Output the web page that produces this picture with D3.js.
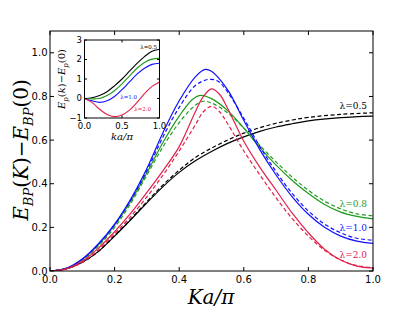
<!DOCTYPE html>
<html>
<head>
<meta charset="utf-8">
<script src="https://cdn.jsdelivr.net/npm/d3@7"></script>
<style>
  body { margin: 0; background: #fff; }
  svg text { font-family: "DejaVu Sans", sans-serif; }
  .serif { font-family: "DejaVu Serif", "Liberation Serif", serif; }
</style>
</head>
<body>
<div id="chart"></div>
<script>
// main panel: E_BP(K) - E_BP(0), solid and dashed for each lambda
const black05 = [[0,0],[0.05,0.01],[0.1,0.04],[0.15,0.09],[0.2,0.16],[0.25,0.235],[0.3,0.312],[0.35,0.387],[0.4,0.452],[0.45,0.505],[0.5,0.548],[0.55,0.585],[0.6,0.615],[0.65,0.64],[0.7,0.66],[0.75,0.675],[0.8,0.688],[0.9,0.703],[1.0,0.71]];
const black05d = [[0,0],[0.05,0.01],[0.1,0.04],[0.15,0.09],[0.2,0.162],[0.25,0.238],[0.3,0.318],[0.35,0.395],[0.4,0.462],[0.45,0.52],[0.5,0.563],[0.55,0.6],[0.6,0.632],[0.65,0.657],[0.7,0.677],[0.75,0.692],[0.8,0.704],[0.9,0.718],[1.0,0.725]];
const green08 = [[0,0],[0.05,0.012],[0.1,0.053],[0.15,0.12],[0.2,0.21],[0.25,0.32],[0.3,0.45],[0.35,0.59],[0.4,0.71],[0.44,0.785],[0.465,0.805],[0.5,0.79],[0.55,0.735],[0.6,0.655],[0.65,0.565],[0.7,0.485],[0.75,0.415],[0.8,0.355],[0.85,0.305],[0.9,0.27],[0.95,0.25],[1.0,0.239]];
const green08d = [[0,0],[0.05,0.011],[0.1,0.05],[0.15,0.115],[0.2,0.2],[0.25,0.31],[0.3,0.44],[0.35,0.57],[0.4,0.68],[0.45,0.76],[0.475,0.778],[0.5,0.77],[0.55,0.725],[0.6,0.655],[0.65,0.575],[0.7,0.5],[0.75,0.43],[0.8,0.37],[0.85,0.32],[0.9,0.285],[0.95,0.262],[1.0,0.253]];
const blue10 = [[0,0],[0.05,0.012],[0.1,0.055],[0.15,0.125],[0.2,0.215],[0.25,0.33],[0.3,0.47],[0.35,0.635],[0.4,0.78],[0.45,0.89],[0.48,0.924],[0.5,0.915],[0.55,0.83],[0.6,0.69],[0.65,0.555],[0.7,0.44],[0.75,0.34],[0.8,0.26],[0.85,0.2],[0.9,0.16],[0.95,0.137],[1.0,0.127]];
const blue10d = [[0,0],[0.05,0.012],[0.1,0.054],[0.15,0.123],[0.2,0.212],[0.25,0.325],[0.3,0.46],[0.35,0.615],[0.4,0.75],[0.45,0.85],[0.49,0.878],[0.52,0.87],[0.55,0.82],[0.6,0.7],[0.65,0.57],[0.7,0.455],[0.75,0.355],[0.8,0.275],[0.85,0.215],[0.9,0.175],[0.95,0.15],[1.0,0.141]];
const red20 = [[0,0],[0.05,0.01],[0.1,0.045],[0.15,0.105],[0.2,0.18],[0.25,0.265],[0.3,0.36],[0.35,0.46],[0.4,0.57],[0.45,0.73],[0.475,0.8],[0.5,0.835],[0.525,0.81],[0.55,0.745],[0.6,0.595],[0.65,0.475],[0.7,0.37],[0.75,0.265],[0.8,0.175],[0.85,0.1],[0.9,0.05],[0.95,0.022],[1.0,0.013]];
const red20d = [[0,0],[0.05,0.009],[0.1,0.04],[0.15,0.097],[0.2,0.17],[0.25,0.25],[0.3,0.34],[0.35,0.44],[0.4,0.55],[0.45,0.67],[0.475,0.73],[0.5,0.755],[0.525,0.73],[0.55,0.675],[0.6,0.55],[0.65,0.44],[0.7,0.335],[0.75,0.24],[0.8,0.16],[0.85,0.095],[0.9,0.05],[0.95,0.025],[1.0,0.015]];

// inset: E_p(k) - E_p(0)
const insetBlack = [[0,0],[0.1,0.04],[0.2,0.15],[0.3,0.35],[0.4,0.65],[0.5,1.0],[0.6,1.4],[0.7,1.8],[0.8,2.15],[0.9,2.42],[1.0,2.53]];
const insetGreen = [[0,0],[0.1,-0.02],[0.2,0.0],[0.3,0.15],[0.4,0.4],[0.5,0.75],[0.6,1.15],[0.7,1.55],[0.8,1.85],[0.9,2.02],[1.0,2.07]];
const insetBlue = [[0,0],[0.1,-0.12],[0.2,-0.2],[0.3,-0.12],[0.4,0.1],[0.5,0.45],[0.6,0.85],[0.7,1.25],[0.8,1.55],[0.9,1.75],[1.0,1.81]];
const insetRed = [[0,0],[0.1,-0.2],[0.2,-0.55],[0.3,-0.82],[0.4,-0.93],[0.5,-0.85],[0.6,-0.6],[0.7,-0.2],[0.8,0.25],[0.9,0.62],[1.0,0.85]];

const mainTicksX = [0, 0.2, 0.4, 0.6, 0.8, 1.0];
const mainTicksY = [0, 0.2, 0.4, 0.6, 0.8, 1.0];
const insetTicksX = [0, 0.5, 1.0];
const insetTicksY = [-1, 0, 1, 2, 3];

const BLACK = "#000", GREEN = "#1f9a1f", BLUE = "#1010ff", RED = "#e0204a";

const W = 415, H = 312;
const svg = d3.select("#chart").append("svg")
    .attr("width", W).attr("height", H);

// main axes
const x = d3.scaleLinear().domain([0, 1]).range([50, 373]);
const y = d3.scaleLinear().domain([0, 1.1]).range([271, 31]);

function drawFrame(g, xs, ys, tx, ty, fmtX, fmtY, fs, tickLen, gap) {
    const [x0, x1] = xs.range(), [y0, y1] = ys.range();
    // ticks pointing inwards on all four sides
    tx.forEach(v => {
        g.append("line").attr("x1", xs(v)).attr("x2", xs(v)).attr("y1", y0).attr("y2", y0 - tickLen).attr("stroke", "#000");
        g.append("line").attr("x1", xs(v)).attr("x2", xs(v)).attr("y1", y1).attr("y2", y1 + tickLen).attr("stroke", "#000");
        g.append("text").attr("x", xs(v)).attr("y", y0 + fs + gap)
            .attr("text-anchor", "middle").attr("font-size", fs).text(fmtX(v));
    });
    ty.forEach(v => {
        g.append("line").attr("x1", x0).attr("x2", x0 + tickLen).attr("y1", ys(v)).attr("y2", ys(v)).attr("stroke", "#000");
        g.append("line").attr("x1", x1).attr("x2", x1 - tickLen).attr("y1", ys(v)).attr("y2", ys(v)).attr("stroke", "#000");
        g.append("text").attr("x", x0 - 2.5).attr("y", ys(v)).attr("dy", "0.35em")
            .attr("text-anchor", "end").attr("font-size", fs).text(fmtY(v));
    });
    g.append("rect").attr("x", x0).attr("y", y1).attr("width", x1 - x0).attr("height", y0 - y1)
        .attr("fill", "none").attr("stroke", "#000").attr("stroke-width", 1);
}

const mainG = svg.append("g");
svg.append("clipPath").attr("id", "mainclip").append("rect")
    .attr("x", 50).attr("y", 31).attr("width", 323).attr("height", 240);

const line = d3.line().x(d => x(d[0])).y(d => y(d[1])).curve(d3.curveCatmullRom.alpha(0.5));
const curves = mainG.append("g").attr("clip-path", "url(#mainclip)");
[
    [black05, BLACK, false], [black05d, BLACK, true],
    [green08, GREEN, false], [green08d, GREEN, true],
    [blue10, BLUE, false], [blue10d, BLUE, true],
    [red20, RED, false], [red20d, RED, true]
].forEach(([d, c, dashed]) => {
    curves.append("path").attr("d", line(d)).attr("fill", "none")
        .attr("stroke", c).attr("stroke-width", 1.2)
        .attr("stroke-dasharray", dashed ? "4,2.5" : null);
});

drawFrame(mainG, x, y, mainTicksX, mainTicksY, d3.format(".1f"), d3.format(".1f"), 10, 4, 1.5);

// curve labels
const labels = [["\u03bb=0.5", BLACK, 0.757], ["\u03bb=0.8", GREEN, 0.31], ["\u03bb=1.0", BLUE, 0.2], ["\u03bb=2.0", RED, 0.072]];
labels.forEach(([t, c, v]) => {
    mainG.append("text").attr("class", "serif").attr("x", 367).attr("y", y(v)).attr("dy", "0.35em")
        .attr("text-anchor", "end").attr("font-size", 9).attr("fill", c).text(t);
});

// axis titles
mainG.append("text").attr("class", "serif")
    .attr("x", 211).attr("y", 304).attr("text-anchor", "middle")
    .attr("font-size", 20).attr("font-style", "italic").text("Ka/\u03c0");

const yl = mainG.append("text").attr("class", "serif")
    .attr("transform", "translate(28,150) rotate(-90)")
    .attr("text-anchor", "middle").attr("font-size", 20).attr("font-style", "italic");
yl.append("tspan").text("E");
yl.append("tspan").attr("font-size", 13).attr("dy", 5).text("BP");
yl.append("tspan").attr("dy", -5).attr("font-style", "normal").text("(");
yl.append("tspan").text("K");
yl.append("tspan").attr("font-style", "normal").text(")\u2212");
yl.append("tspan").text("E");
yl.append("tspan").attr("font-size", 13).attr("dy", 5).text("BP");
yl.append("tspan").attr("dy", -5).attr("font-style", "normal").text("(0)");

// inset
const ix = d3.scaleLinear().domain([0, 1]).range([84.5, 159.5]);
const iy = d3.scaleLinear().domain([-1, 3]).range([118, 40]);
const insetG = svg.append("g");
insetG.append("rect").attr("x", 84.5).attr("y", 40).attr("width", 75).attr("height", 78).attr("fill", "#fff");
const iline = d3.line().x(d => ix(d[0])).y(d => iy(d[1])).curve(d3.curveCatmullRom.alpha(0.5));
[[insetBlack, BLACK], [insetGreen, GREEN], [insetBlue, BLUE], [insetRed, RED]].forEach(([d, c]) => {
    insetG.append("path").attr("d", iline(d)).attr("fill", "none").attr("stroke", c).attr("stroke-width", 1.1);
});
drawFrame(insetG, ix, iy, insetTicksX, insetTicksY, d3.format(".1f"), v => v < 0 ? "\u2212" + Math.abs(v) : String(v), 8.5, 2.5, 2);

[["\u03bb=0.5", BLACK, 157, 47.5], ["\u03bb=1.0", BLUE, 137, 97.5], ["\u03bb=2.0", RED, 151, 109]].forEach(([t, c, px, py]) => {
    insetG.append("text").attr("class", "serif").attr("x", px).attr("y", py).attr("dy", "0.35em")
        .attr("text-anchor", "end").attr("font-size", 5.5).attr("fill", c).text(t);
});

insetG.append("text").attr("class", "serif")
    .attr("x", 122).attr("y", 140).attr("text-anchor", "middle")
    .attr("font-size", 10).attr("font-style", "italic").text("ka/\u03c0");

const iyl = insetG.append("text").attr("class", "serif")
    .attr("transform", "translate(65,79) rotate(-90)")
    .attr("text-anchor", "middle").attr("font-size", 10).attr("font-style", "italic");
iyl.append("tspan").text("E");
iyl.append("tspan").attr("font-size", 7).attr("dy", 2.5).text("p");
iyl.append("tspan").attr("dy", -2.5).attr("font-style", "normal").text("(");
iyl.append("tspan").text("k");
iyl.append("tspan").attr("font-style", "normal").text(")\u2212");
iyl.append("tspan").text("E");
iyl.append("tspan").attr("font-size", 7).attr("dy", 2.5).text("p");
iyl.append("tspan").attr("dy", -2.5).attr("font-style", "normal").text("(0)");
</script>
</body>
</html>
